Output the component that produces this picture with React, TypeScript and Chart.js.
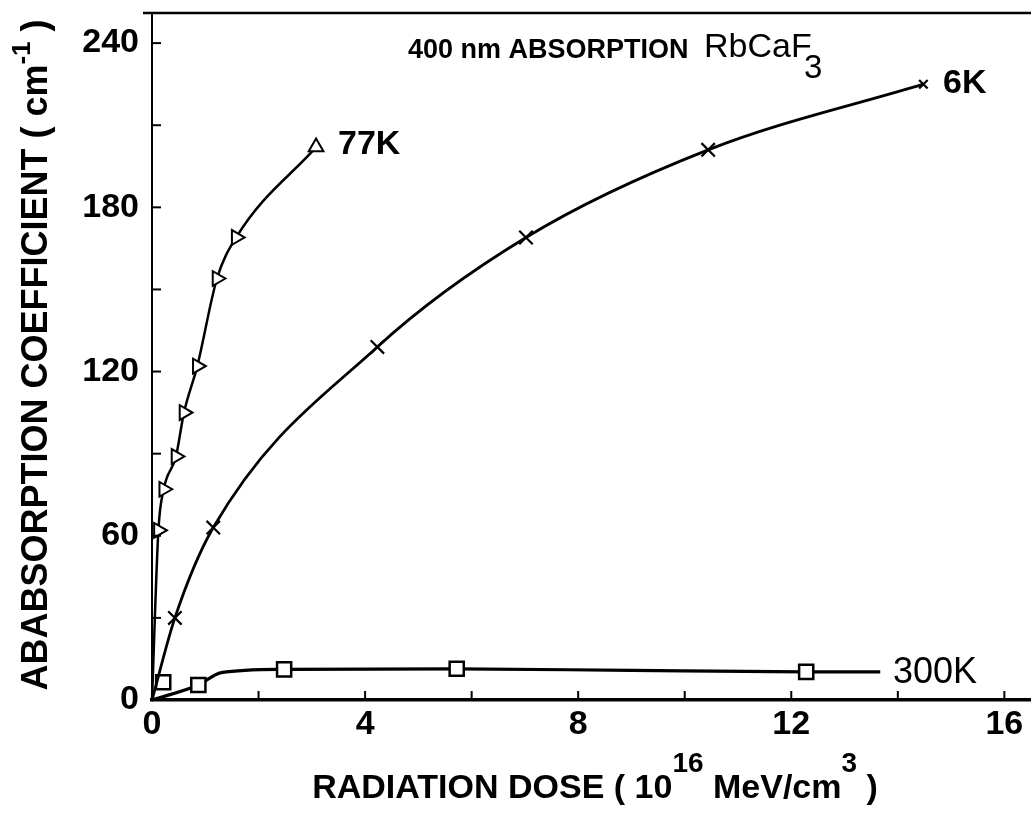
import React, { useEffect, useRef } from 'react';
import { Chart, registerables } from 'chart.js';

Chart.register(...registerables);

// ---- data ----
// 77 K (triangles); first point is the curve origin (no marker)
const dose77K = [0, 0.12, 0.22, 0.45, 0.6, 0.85, 1.22, 1.58, 3.08];
const abs77K = [0, 62, 77, 89, 105, 122, 154, 169, 202];
const rot77K = [0, 90, 90, 90, 90, 90, 90, 90, 0];

// 6 K (crosses); first point is the curve origin (no marker)
const dose6K = [0, 0.43, 1.15, 4.23, 7.02, 10.44, 14.48];
const abs6K = [0, 30, 63, 129, 169, 201, 225];
const size6K = [0, 9.5, 9.5, 9.5, 9.5, 9.5, 6];

// 300 K (squares) measured points
const dose300K = [0.21, 0.87, 2.48, 5.72, 12.28];
const abs300K = [6.5, 5.5, 11.2, 11.4, 10.3];
// 300 K drawn curve
const dose300KCurve = [0, 0.87, 1.3, 2.48, 5.72, 9.0, 12.28, 13.67];
const abs300KCurve = [0, 5.5, 10.0, 11.2, 11.4, 10.8, 10.3, 10.3];

// axes
const xTickMarks = [0, 2, 4, 6, 8, 10, 12, 14, 16];
const xTickLabels = [0, 4, 8, 12, 16];
const yTickMarks = [0, 30, 60, 90, 120, 150, 180, 210, 240];
const yTickLabels = [0, 60, 120, 180, 240];

const FONT = '"Liberation Sans", Arial, Helvetica, sans-serif';

type Seg = { t: string; font: string; dy?: number };

function drawSegs(ctx: CanvasRenderingContext2D, x: number, y: number, segs: Seg[], align: 'left' | 'center') {
  let total = 0;
  for (const s of segs) {
    ctx.font = s.font;
    total += ctx.measureText(s.t).width;
  }
  let cx = align === 'center' ? x - total / 2 : x;
  ctx.textAlign = 'left';
  ctx.textBaseline = 'alphabetic';
  for (const s of segs) {
    ctx.font = s.font;
    ctx.fillText(s.t, cx, y + (s.dy || 0));
    cx += ctx.measureText(s.t).width;
  }
}

const decorPlugin = {
  id: 'decor',
  afterDraw(chart: any) {
    const ctx: CanvasRenderingContext2D = chart.ctx;
    const { left, right, top, bottom } = chart.chartArea;
    const xs = chart.scales.x;
    const ys = chart.scales.y;
    ctx.save();
    ctx.strokeStyle = '#000';
    ctx.fillStyle = '#000';
    // inward tick marks
    ctx.lineWidth = 2;
    for (const v of xTickMarks) {
      if (v === 0) continue;
      const px = xs.getPixelForValue(v);
      ctx.beginPath();
      ctx.moveTo(px, bottom);
      ctx.lineTo(px, bottom - 9);
      ctx.stroke();
    }
    for (const v of yTickMarks) {
      if (v === 0) continue;
      const py = ys.getPixelForValue(v);
      ctx.beginPath();
      ctx.moveTo(left, py);
      ctx.lineTo(left + 9, py);
      ctx.stroke();
    }
    // top frame line
    ctx.lineWidth = 2.5;
    ctx.beginPath();
    ctx.moveTo(left - 9, top);
    ctx.lineTo(right, top);
    ctx.stroke();

    // annotations
    drawSegs(ctx, 408, 58, [{ t: '400 nm ABSORPTION', font: `bold 27px ${FONT}` }], 'left');
    drawSegs(ctx, 704, 57, [{ t: 'RbCaF', font: `34px ${FONT}` }], 'left');
    drawSegs(ctx, 804, 78, [{ t: '3', font: `33px ${FONT}` }], 'left');
    drawSegs(ctx, 338, 154, [{ t: '77K', font: `bold 34px ${FONT}` }], 'left');
    drawSegs(ctx, 943, 93, [{ t: '6K', font: `bold 34px ${FONT}` }], 'left');
    drawSegs(ctx, 893, 683, [{ t: '300K', font: `36px ${FONT}` }], 'left');

    // x axis title
    drawSegs(
      ctx,
      595,
      798,
      [
        { t: 'RADIATION DOSE ( 10', font: `bold 34px ${FONT}` },
        { t: '16', font: `bold 28px ${FONT}`, dy: -26 },
        { t: ' MeV/cm', font: `bold 34px ${FONT}` },
        { t: '3', font: `bold 28px ${FONT}`, dy: -26 },
        { t: ' )', font: `bold 34px ${FONT}` },
      ],
      'center'
    );

    // y axis title (rotated)
    ctx.translate(47, 355);
    ctx.rotate(-Math.PI / 2);
    drawSegs(
      ctx,
      0,
      0,
      [
        { t: 'ABABSORPTION COEFFICIENT ( cm', font: `bold 36px ${FONT}` },
        { t: '-1', font: `bold 26px ${FONT}`, dy: -17 },
        { t: ' )', font: `bold 36px ${FONT}` },
      ],
      'center'
    );
    ctx.restore();
  },
};

export default function App() {
  const ref = useRef<HTMLCanvasElement | null>(null);

  useEffect(() => {
    if (!ref.current) return;
    const chart = new Chart(ref.current, {
      type: 'scatter',
      data: {
        datasets: [
          {
            label: '77K',
            data: dose77K.map((x, i) => ({ x, y: abs77K[i] })),
            showLine: true,
            borderColor: '#000',
            borderWidth: 2.5,
            cubicInterpolationMode: 'monotone',
            pointStyle: 'triangle',
            pointRotation: rot77K,
            pointRadius: dose77K.map((_, i) => (i === 0 ? 0 : 8.5)),
            pointBorderWidth: 2,
            pointBorderColor: '#000',
            pointBackgroundColor: '#fff',
            clip: false,
            order: 0,
          } as any,
          {
            label: '6K',
            data: dose6K.map((x, i) => ({ x, y: abs6K[i] })),
            showLine: true,
            borderColor: '#000',
            borderWidth: 2.8,
            cubicInterpolationMode: 'monotone',
            pointStyle: 'crossRot',
            pointRadius: size6K,
            pointBorderWidth: 2.2,
            pointBorderColor: '#000',
            clip: false,
            order: 0,
          } as any,
          {
            label: '300K',
            data: dose300K.map((x, i) => ({ x, y: abs300K[i] })),
            showLine: false,
            pointStyle: 'rect',
            pointRadius: 10,
            pointBorderWidth: 2.5,
            pointBorderColor: '#000',
            pointBackgroundColor: '#fff',
            clip: false,
            order: 0,
          } as any,
          {
            label: '300K curve',
            data: dose300KCurve.map((x, i) => ({ x, y: abs300KCurve[i] })),
            showLine: true,
            borderColor: '#000',
            borderWidth: 3.2,
            cubicInterpolationMode: 'monotone',
            pointRadius: 0,
            clip: false,
            order: 1,
          } as any,
        ],
      },
      options: {
        animation: false,
        responsive: false,
        layout: { autoPadding: false, padding: { top: 13, right: 0, left: 0, bottom: 0 } },
        plugins: { legend: { display: false }, tooltip: { enabled: false } },
        events: [],
        scales: {
          x: {
            type: 'linear',
            min: 0,
            max: 16.5,
            afterFit: (s: any) => {
              s.height = 116;
              s.paddingLeft = 0;
              s.paddingRight = 0;
            },
            afterBuildTicks: (s: any) => {
              s.ticks = xTickMarks.map((v) => ({ value: v }));
            },
            grid: { display: false, drawTicks: false },
            border: { display: true, color: '#000', width: 3.5 },
            ticks: {
              autoSkip: false,
              maxRotation: 0,
              padding: 4,
              color: '#000',
              font: { family: FONT, size: 34, weight: 'bold' },
              callback: (v: any) => (xTickLabels.includes(Number(v)) ? String(v) : ''),
            },
          },
          y: {
            type: 'linear',
            min: 0,
            max: 251,
            afterFit: (s: any) => {
              s.width = 152;
              s.paddingTop = 0;
              s.paddingBottom = 0;
            },
            afterBuildTicks: (s: any) => {
              s.ticks = yTickMarks.map((v) => ({ value: v }));
            },
            grid: { display: false, drawTicks: false },
            border: { display: true, color: '#000', width: 2 },
            ticks: {
              autoSkip: false,
              padding: 13,
              color: '#000',
              font: { family: FONT, size: 34, weight: 'bold' },
              callback: (v: any) => (yTickLabels.includes(Number(v)) ? String(v) : ''),
            },
          },
        },
      } as any,
      plugins: [decorPlugin],
    });
    return () => chart.destroy();
  }, []);

  return (
    <canvas
      ref={ref}
      width={1031}
      height={816}
      style={{ position: 'fixed', left: 0, top: 0, width: 1031, height: 816, display: 'block', background: '#fff' }}
    />
  );
}
